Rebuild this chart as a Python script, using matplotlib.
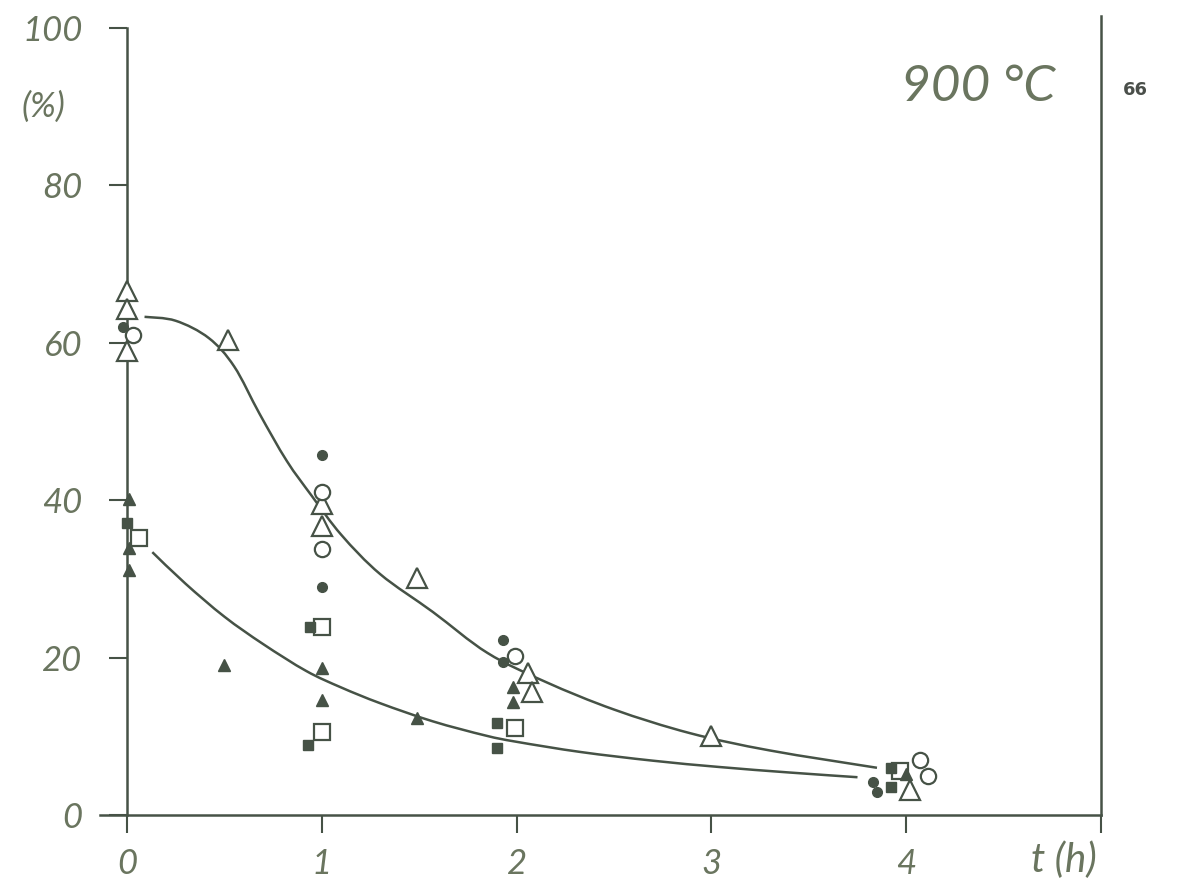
import matplotlib
matplotlib.use("Agg")
import matplotlib.pyplot as plt
from matplotlib.path import Path
from matplotlib.patches import PathPatch

# open triangles
tri_open_t = [0.0, 0.0, 0.0, 0.52, 1.0, 1.0, 1.49, 2.06, 2.08, 3.0, 4.02]
tri_open_y = [66.6, 64.3, 58.9, 60.4, 39.5, 36.7, 30.1, 18.0, 15.6, 10.0, 3.2]
# open circles
circ_open_t = [0.03, 1.0, 1.0, 1.99, 4.07, 4.11]
circ_open_y = [61.0, 41.0, 33.8, 20.2, 7.0, 4.9]
# filled circles
circ_fill_t = [-0.02, 1.0, 1.0, 1.93, 1.93, 3.83, 3.85]
circ_fill_y = [62.0, 45.8, 29.0, 22.2, 19.5, 4.2, 2.9]
# open squares
sq_open_t = [0.06, 1.0, 1.0, 1.99, 3.97]
sq_open_y = [35.2, 23.9, 10.5, 11.1, 5.6]
# filled squares
sq_fill_t = [0.0, 0.94, 0.93, 1.90, 1.90, 3.92, 3.92]
sq_fill_y = [37.1, 23.9, 8.9, 11.7, 8.5, 6.0, 3.6]
# filled triangles
tri_fill_t = [0.01, 0.01, 0.01, 0.50, 1.0, 1.0, 1.49, 1.98, 1.98, 4.0]
tri_fill_y = [40.2, 33.9, 31.1, 19.1, 18.7, 14.6, 12.3, 16.3, 14.3, 5.2]

# hand-drawn trend curves
upper_t = [0.09, 0.25, 0.42, 0.55, 0.68, 0.82, 0.95, 1.1, 1.3, 1.57, 1.85,
           2.15, 2.5, 2.89, 3.3, 3.85]
upper_y = [63.3, 62.8, 60.6, 57.0, 51.0, 45.0, 40.5, 35.6, 30.6, 25.8, 20.6,
           16.9, 13.4, 10.4, 8.2, 6.0]
lower_t = [0.13, 0.3, 0.5, 0.7, 0.92, 1.1, 1.3, 1.57, 1.84, 2.0, 2.33, 2.7,
           3.04, 3.4, 3.75]
lower_y = [33.4, 29.4, 25.2, 21.7, 18.3, 16.2, 14.2, 11.9, 10.1, 9.3, 8.0, 6.9,
           6.1, 5.4, 4.8]

x_ticks = [0, 1, 2, 3, 4, 5]
x_labels = ["0", "1", "2", "3", "4", ""]
y_ticks = [0, 20, 40, 60, 80, 100]

ink = "#465246"
txt = "#6a755f"
FONT = ["Lato", "DejaVu Sans"]


def smooth_path(xs, ys):
    """Catmull-Rom through the traced points, drawn as cubic Bezier segments."""
    pts = list(zip(xs, ys))
    pts = [pts[0]] + pts + [pts[-1]]
    verts = [pts[1]]
    codes = [Path.MOVETO]
    for i in range(1, len(pts) - 2):
        p0, p1, p2, p3 = pts[i - 1], pts[i], pts[i + 1], pts[i + 2]
        c1 = (p1[0] + (p2[0] - p0[0]) / 6, p1[1] + (p2[1] - p0[1]) / 6)
        c2 = (p2[0] - (p3[0] - p1[0]) / 6, p2[1] - (p3[1] - p1[1]) / 6)
        verts += [c1, c2, p2]
        codes += [Path.CURVE4] * 3
    return Path(verts, codes)


fig = plt.figure(figsize=(11.78, 8.85), dpi=100)
ax = fig.add_axes([127 / 1178, 70 / 885, 974 / 1178, 787 / 885])
ax.set_xlim(0, 5)
ax.set_ylim(0, 100)

for s in ("top", "right", "bottom"):
    ax.spines[s].set_visible(False)
ax.spines["left"].set_color(ink)
ax.spines["left"].set_linewidth(1.8)

# bottom line sticks out a little on the left, right frame line runs a bit high
ax.plot([-0.14, 5], [0, 0], color=ink, lw=1.8, clip_on=False, zorder=1)
ax.plot([5, 5], [0, 101.5], color=ink, lw=1.8, clip_on=False, zorder=1)

for xs, ys in ((upper_t, upper_y), (lower_t, lower_y)):
    ax.add_patch(PathPatch(smooth_path(xs, ys), fill=False, edgecolor=ink,
                           lw=1.8, zorder=2))

ax.plot(tri_open_t, tri_open_y, ls="none", marker="^", ms=15, mfc="white",
        mec=ink, mew=1.6, zorder=3, clip_on=False)
ax.plot(circ_open_t, circ_open_y, ls="none", marker="o", ms=11, mfc="white",
        mec=ink, mew=1.6, zorder=3, clip_on=False)
ax.plot(sq_open_t, sq_open_y, ls="none", marker="s", ms=11, mfc="white",
        mec=ink, mew=1.6, zorder=3, clip_on=False)
ax.plot(circ_fill_t, circ_fill_y, ls="none", marker="o", ms=7, color=ink,
        zorder=4, clip_on=False)
ax.plot(sq_fill_t, sq_fill_y, ls="none", marker="s", ms=7, color=ink,
        zorder=4, clip_on=False)
ax.plot(tri_fill_t, tri_fill_y, ls="none", marker="^", ms=9, color=ink,
        zorder=4, clip_on=False)

ax.set_xticks(x_ticks)
ax.set_xticklabels(x_labels)
ax.set_yticks(y_ticks)
ax.set_yticklabels([str(v) for v in y_ticks])
ax.tick_params(axis="x", direction="out", length=13, width=1.5, color=ink,
               pad=11, labelsize=25, labelcolor=txt)
ax.tick_params(axis="y", direction="out", length=13, width=1.5, color=ink,
               pad=19, labelsize=25, labelcolor=txt)
for lab in ax.get_xticklabels() + ax.get_yticklabels():
    lab.set_fontstyle("italic")
    lab.set_fontfamily(FONT)

ax.text(-0.43, 90.0, "(%)", fontsize=25, style="italic", color=txt,
        family=FONT, ha="center", va="center")
ax.text(4.98, -5.8, "t (h)", fontsize=29, style="italic", color=txt,
        family=FONT, ha="right", va="center", clip_on=False)
ax.text(4.37, 92.5, "900 °C", fontsize=37, style="italic", color=txt,
        family=FONT, ha="center", va="center")
fig.text(1135 / 1178, 1 - 90 / 885, "66", fontsize=13, fontweight="bold",
         color="#4a4f4a", ha="center", va="center")

fig.savefig("out.png", dpi=100)
